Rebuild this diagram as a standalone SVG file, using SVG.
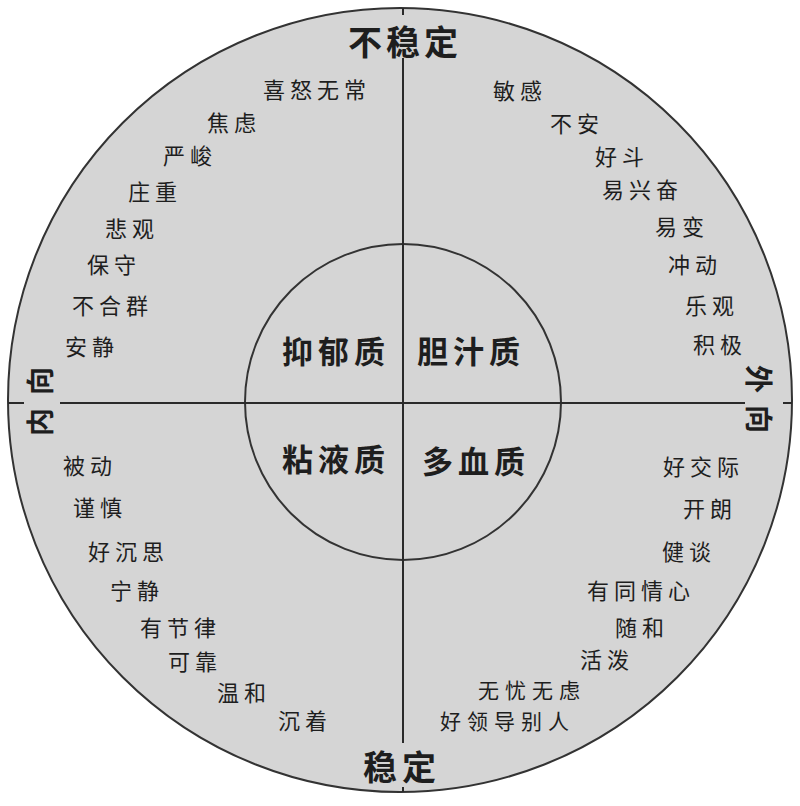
<svg xmlns="http://www.w3.org/2000/svg" width="800" height="806" viewBox="0 0 800 806">
<style>
text{font-family:"Noto Sans CJK SC","Noto Sans CJK JP",sans-serif;fill:#1e1e1e;dominant-baseline:central}
.s{font-size:22px;letter-spacing:5px}
.s2{font-size:21px;letter-spacing:6px}
.q{font-size:31px;letter-spacing:5px;font-weight:bold}
.t{font-size:34px;font-weight:bold}
.r{font-size:28px;text-anchor:middle;font-weight:bold}
.ln{stroke:#2a2a2a;stroke-width:2;fill:none}
</style>
<rect width="800" height="806" fill="#ffffff"/>
<g id="outer-circle"><circle cx="400" cy="400" r="392" fill="#d5d5d5" stroke="#333" stroke-width="2"/></g>
<g id="inner-circle"><circle cx="403" cy="402" r="158" fill="none" stroke="#333" stroke-width="2"/></g>
<g id="connectors">
<line class="ln" x1="403" y1="8" x2="403" y2="15"/>
<line class="ln" x1="403" y1="58" x2="403" y2="743"/>
<line class="ln" x1="403" y1="787" x2="403" y2="792"/>
<line class="ln" x1="8" y1="403" x2="24" y2="403"/>
<line class="ln" x1="60" y1="403" x2="745" y2="403"/>
<line class="ln" x1="783" y1="403" x2="792" y2="403"/>
</g>
<g id="axis-top"><text class="t" x="348" y="40" letter-spacing="4">不稳定</text></g>
<g id="axis-bottom"><text class="t" x="363" y="765" letter-spacing="5">稳定</text></g>
<g id="axis-left">
<text class="r" transform="translate(39,381) rotate(-90)" y="0">向</text>
<text class="r" transform="translate(39,422) rotate(-90)" y="0">内</text>
</g>
<g id="axis-right">
<text class="r" transform="translate(760,379) rotate(90)" y="0">外</text>
<text class="r" transform="translate(760,419) rotate(90)" y="0">向</text>
</g>
<g id="melancholic"><text class="q" x="282" y="349">抑郁质</text></g>
<g id="choleric"><text class="q" x="417" y="349">胆汁质</text></g>
<g id="phlegmatic"><text class="q" x="282" y="457">粘液质</text></g>
<g id="sanguine"><text class="q" x="422" y="459">多血质</text></g>
<g id="traits-melancholic">
<text class="s" x="263" y="88">喜怒无常</text>
<text class="s" x="207" y="121">焦虑</text>
<text class="s" x="163" y="154">严峻</text>
<text class="s" x="128" y="190">庄重</text>
<text class="s" x="105" y="227">悲观</text>
<text class="s" x="87" y="263">保守</text>
<text class="s" x="72" y="304">不合群</text>
<text class="s" x="65" y="345">安静</text>
</g>
<g id="traits-choleric">
<text class="s" x="493" y="89">敏感</text>
<text class="s" x="550" y="122">不安</text>
<text class="s" x="595" y="155">好斗</text>
<text class="s" x="602" y="188">易兴奋</text>
<text class="s" x="655" y="225">易变</text>
<text class="s" x="668" y="263">冲动</text>
<text class="s" x="685" y="304">乐观</text>
<text class="s" x="693" y="343">积极</text>
</g>
<g id="traits-phlegmatic">
<text class="s" x="63" y="464">被动</text>
<text class="s" x="73" y="506">谨慎</text>
<text class="s" x="88" y="550">好沉思</text>
<text class="s" x="110" y="589">宁静</text>
<text class="s" x="140" y="626">有节律</text>
<text class="s" x="168" y="660">可靠</text>
<text class="s" x="217" y="691">温和</text>
<text class="s" x="278" y="719">沉着</text>
</g>
<g id="traits-sanguine">
<text class="s" x="663" y="465">好交际</text>
<text class="s" x="683" y="507">开朗</text>
<text class="s" x="662" y="550">健谈</text>
<text class="s" x="587" y="589">有同情心</text>
<text class="s" x="615" y="626">随和</text>
<text class="s" x="580" y="658">活泼</text>
<text class="s2" x="478" y="689">无忧无虑</text>
<text class="s2" x="440" y="720" letter-spacing="7">好领导别人</text>
</g>
</svg>
